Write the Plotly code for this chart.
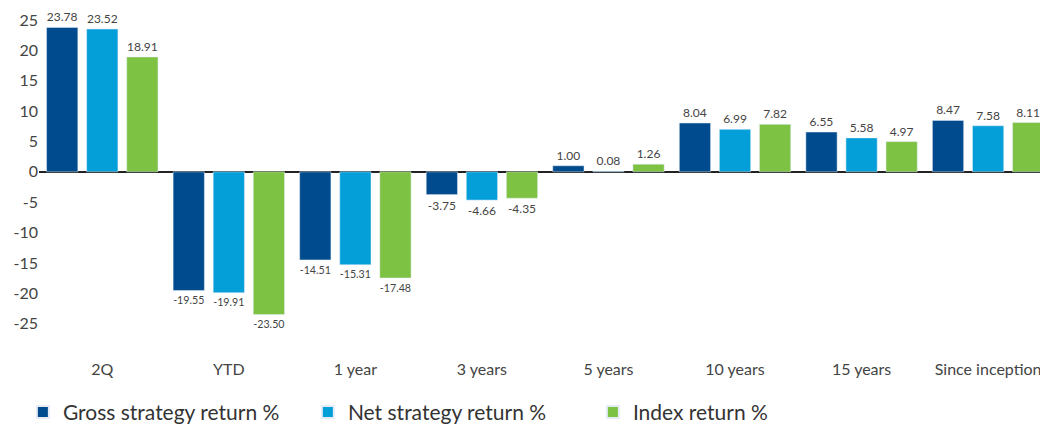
import plotly.graph_objects as go

categories = ["2Q", "YTD", "1 year", "3 years", "5 years", "10 years", "15 years", "Since inception"]
gross = [23.78, -19.55, -14.51, -3.75, 1.00, 8.04, 6.55, 8.47]
net = [23.52, -19.91, -15.31, -4.66, 0.08, 6.99, 5.58, 7.58]
index_ret = [18.91, -23.50, -17.48, -4.35, 1.26, 7.82, 4.97, 8.11]
series_names = ["Gross strategy return %", "Net strategy return %", "Index return %"]
colors = ["#004B8D", "#049FD9", "#7DC243"]
ytick_vals = [25, 20, 15, 10, 5, 0, -5, -10, -15, -20, -25]
ytick_text = ["25", "20", "15", "10", "5", "0", "-5", "-10", "-15", "-20", "-25"]

fig = go.Figure()
for name, vals, col in zip(series_names, [gross, net, index_ret], colors):
    fig.add_trace(go.Bar(
        x=categories, y=vals, name=name, marker_color=col,
        text=[f"{v:.2f}" for v in vals], textposition="outside",
        textfont=dict(size=12, color="#444444", family="Lato"),
        cliponaxis=False,
    ))

fig.update_layout(
    width=1040, height=425,
    margin=dict(l=39, r=0, t=20, b=71, autoexpand=False),
    plot_bgcolor="white", paper_bgcolor="white",
    barmode="group", bargap=0.05, bargroupgap=0.22,
    font=dict(family="Lato", color="#444444"),
    xaxis=dict(range=[-0.5, 7.41], showgrid=False, showline=False, ticks="",
               tickfont=dict(size=16, color="#444444"), ticklabelstandoff=4),
    yaxis=dict(range=[-30, 25], tickvals=ytick_vals, ticktext=ytick_text,
               showgrid=False, zeroline=True, zerolinecolor="#222222", zerolinewidth=2,
               tickfont=dict(size=16, color="#444444"), ticks=""),
    legend=dict(orientation="h", x=0.022, xanchor="left", xref="container",
                y=0.03, yanchor="middle", yref="container",
                font=dict(size=21, color="#333333"),
                entrywidth=240, entrywidthmode="pixels",
                itemsizing="constant"),
)

fig.write_html("out.html")
